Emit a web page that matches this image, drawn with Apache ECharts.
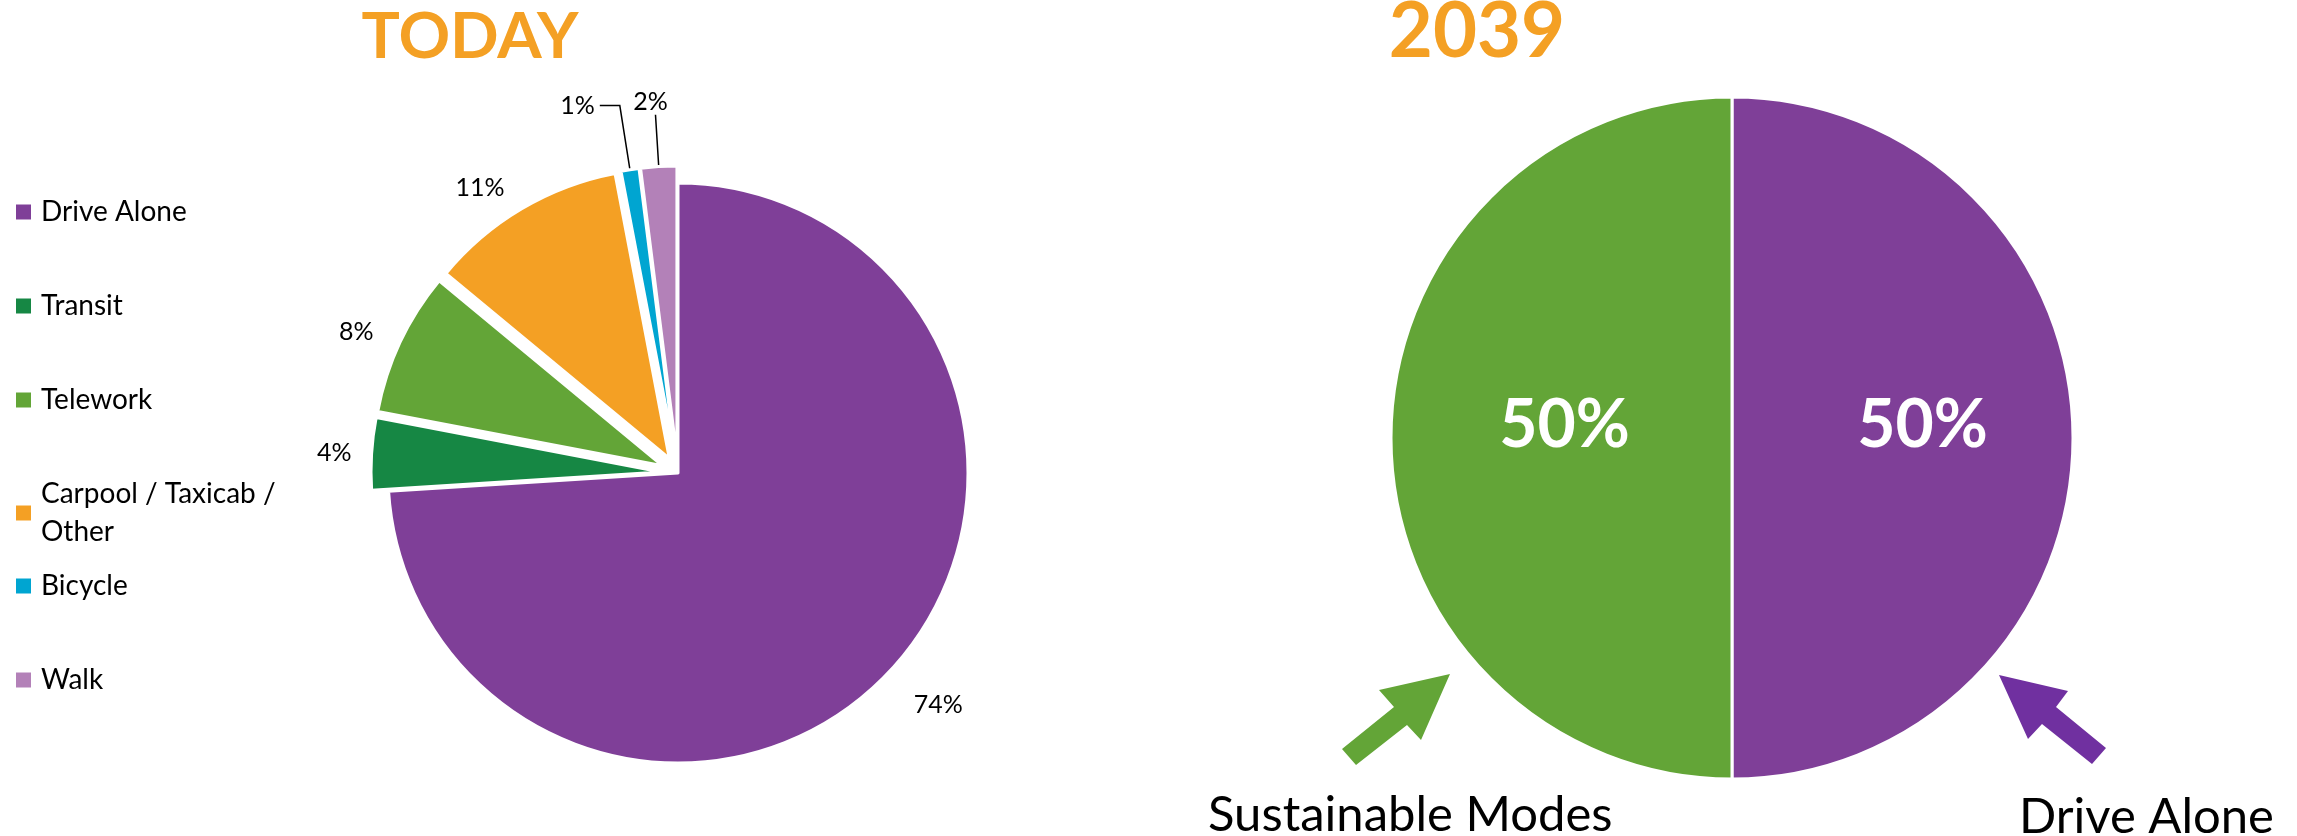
<!DOCTYPE html>
<html><head><meta charset="utf-8">
<script src="https://cdn.jsdelivr.net/npm/echarts@6/dist/echarts.min.js"></script>
<style>html,body{margin:0;padding:0;background:#fff}#c{width:2297px;height:836px}</style>
</head><body><div id="c"></div>
<script>
// ---- data ----
const todayCategories = ['Drive Alone', 'Transit', 'Telework', 'Carpool / Taxicab / Other', 'Bicycle', 'Walk'];
const todayValues = [74, 4, 8, 11, 1, 2];
const futureCategories = ['Drive Alone', 'Sustainable Modes'];
const futureValues = [50, 50];
const titles = ['TODAY', '2039'];

// ---- styles ----
const todayColors = ['#7F3F98', '#168744', '#63A537', '#F4A024', '#00A5D1', '#B381B8'];
const futureColors = ['#7F3F98', '#63A537'];
const labelLen = [36, 15, 24, 24, 65, 52];
const labelLen2 = [0, 0, 0, 0, 20, 0];
const showLine = [false, false, false, false, true, true];
const exploded = [false, true, true, true, true, true];
const innerOffsets = [[17, -12], [6, -12]];
const FONT = 'Lato, "Open Sans", sans-serif';

const chart = echarts.init(document.getElementById('c'), null, { renderer: 'canvas' });

const todayData = todayCategories.map((n, i) => ({
  name: n,
  value: todayValues[i],
  selected: exploded[i],
  itemStyle: { color: todayColors[i] },
  labelLine: { show: showLine[i], length: labelLen[i], length2: labelLen2[i] }
}));
const futureData = futureCategories.map((n, i) => ({
  name: n,
  value: futureValues[i],
  itemStyle: { color: futureColors[i] },
  label: { offset: innerOffsets[i] }
}));

const legendText = name => name === 'Carpool / Taxicab / Other' ? 'Carpool / Taxicab /\nOther' : name;
const legendBase = {
  orient: 'vertical', left: 16, itemWidth: 15, itemHeight: 15, itemGap: 56,
  icon: 'rect', selectedMode: false, padding: 0,
  itemStyle: { borderWidth: 0 },
  formatter: legendText,
  textStyle: { fontFamily: FONT, fontSize: 28, lineHeight: 38, color: '#000', padding: [0, 0, 0, 5] }
};

const option = {
  animation: false,
  backgroundColor: '#fff',
  title: [
    { text: titles[0], left: 470, top: 5, padding: 0, textAlign: 'center',
      textStyle: { color: '#F4A024', fontFamily: FONT, fontWeight: 'bold', fontSize: 64 } },
    { text: titles[1], left: 1477, top: -6, padding: 0, textAlign: 'center',
      textStyle: { color: '#F4A024', fontFamily: FONT, fontWeight: 'bold', fontSize: 76 } }
  ],
  legend: [
    Object.assign({}, legendBase, { top: 193, data: todayCategories.slice(0, 4) }),
    Object.assign({}, legendBase, { top: 567, data: todayCategories.slice(4) })
  ],
  graphic: [
    { type: 'polygon', silent: true,
      shape: { points: [[1450, 674], [1379, 690], [1394, 707], [1342, 749], [1356, 765], [1407, 725], [1421, 740]] },
      style: { fill: '#63A537' } },
    { type: 'polygon', silent: true,
      shape: { points: [[1999, 675], [2068, 691], [2056, 707], [2106, 748], [2092, 764], [2042, 724], [2028, 739]] },
      style: { fill: '#7030A0' } },
    { type: 'text', silent: true, x: 1208, y: 815,
      style: { text: futureCategories[1], font: '49px ' + FONT, fill: '#000', verticalAlign: 'middle', align: 'left' } },
    { type: 'text', silent: true, x: 2019, y: 817,
      style: { text: futureCategories[0], font: '49px ' + FONT, fill: '#000', verticalAlign: 'middle', align: 'left' } }
  ],
  series: [
    {
      type: 'pie',
      center: [678, 473],
      radius: 290,
      startAngle: 90,
      clockwise: true,
      selectedMode: 'multiple',
      selectedOffset: 17,
      avoidLabelOverlap: false,
      emphasis: { disabled: true },
      itemStyle: { borderColor: '#fff', borderWidth: 3 },
      label: { show: true, position: 'outside', formatter: '{c}%', fontFamily: FONT, fontSize: 25, color: '#000' },
      labelLine: { lineStyle: { color: '#000', width: 1.5 } },
      labelLayout: function (params) {
        if (params.dataIndex === 5) return { align: 'center', verticalAlign: 'bottom' };
        if (params.dataIndex === 0) return { dx: -7, dy: 9 };
      },
      data: todayData
    },
    {
      type: 'pie',
      center: [1732, 438],
      radius: 341,
      startAngle: 90,
      clockwise: true,
      selectedMode: false,
      emphasis: { disabled: true },
      itemStyle: { borderColor: '#fff', borderWidth: 3 },
      label: { show: true, position: 'inner', formatter: '{c}%', fontFamily: FONT, fontWeight: 'bold', fontSize: 66, color: '#fff' },
      labelLine: { show: false },
      data: futureData
    }
  ]
};
chart.setOption(option);
</script>
</body></html>
